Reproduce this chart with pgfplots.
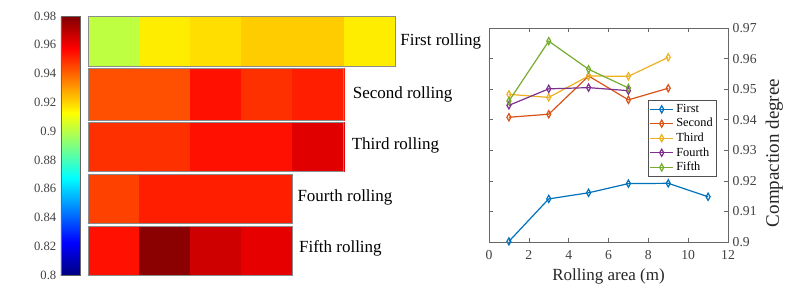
\documentclass[border=0pt]{standalone}
\usepackage{fontspec}
\setmainfont{Liberation Serif}
\usepackage{pgfplots}
\usepackage{pgfplotstable}
\pgfplotsset{compat=1.18}
\pgfplotsset{colorbar shift/.style={}}
\usepgfplotslibrary{patchplots}
\pgfkeys{/pgf/number format/assume math mode=true}
\definecolor{c1}{RGB}{0,114,189}
\definecolor{c2}{RGB}{217,83,25}
\definecolor{c3}{RGB}{237,177,32}
\definecolor{c4}{RGB}{126,47,142}
\definecolor{c5}{RGB}{119,172,48}
\definecolor{axgray}{RGB}{38,38,38}

\pgfplotstableread{
x y c
0 209 0.901
1 209 0.901
1 259 0.901
0 259 0.901
1 209 0.9157
2 209 0.9157
2 259 0.9157
1 259 0.9157
2 209 0.9184
3 209 0.9184
3 259 0.9184
2 259 0.9184
3 209 0.9215
4 209 0.9215
4 259 0.9215
3 259 0.9215
4 209 0.9215
5 209 0.9215
5 259 0.9215
4 259 0.9215
5 209 0.9157
6 209 0.9157
6 259 0.9157
5 259 0.9157
0 155 0.9435
1 155 0.9435
1 207 0.9435
0 207 0.9435
1 155 0.9435
2 155 0.9435
2 207 0.9435
1 207 0.9435
2 155 0.9547
3 155 0.9547
3 207 0.9547
2 207 0.9547
3 155 0.949
4 155 0.949
4 207 0.949
3 207 0.949
4 155 0.952
5 155 0.952
5 207 0.952
4 207 0.952
0 104 0.949
1 104 0.949
1 153 0.949
0 153 0.949
1 104 0.949
2 104 0.949
2 153 0.949
1 153 0.949
2 104 0.9547
3 104 0.9547
3 153 0.9547
2 153 0.9547
3 104 0.9547
4 104 0.9547
4 153 0.9547
3 153 0.9547
4 104 0.963
5 104 0.963
5 153 0.963
4 153 0.963
0 52 0.946
1 52 0.946
1 101 0.946
0 101 0.946
1 52 0.952
2 52 0.952
2 101 0.952
1 101 0.952
2 52 0.952
3 52 0.952
3 101 0.952
2 101 0.952
3 52 0.952
4 52 0.952
4 101 0.952
3 101 0.952
0 0 0.9547
1 0 0.9547
1 49 0.9547
0 49 0.9547
1 0 0.978
2 0 0.978
2 49 0.978
1 49 0.978
2 0 0.966
3 0 0.966
3 49 0.966
2 49 0.966
3 0 0.962
4 0 0.962
4 49 0.962
3 49 0.962
}\heatdata

\begin{document}
\begin{tikzpicture}[x=0.75pt,y=0.75pt]
\useasboundingbox (0,0) rectangle (810,301);
\coordinate (hm) at (88,26);
\coordinate (cb) at (80,26);
\coordinate (rp) at (489,59);

% ---------- heat map ----------
\begin{axis}[
  at={(hm)}, anchor=south west, scale only axis,
  width=230.25pt, height=194.25pt,
  xmin=0, xmax=6, ymin=0, ymax=259, enlargelimits=false,
  hide axis, clip=false,
  colormap/jet,
  point meta min=0.8, point meta max=0.98,
  colorbar shift/.style={},
  colorbar,
  colorbar style={
    at={(cb)}, anchor=south east,
    width=14.25pt, height=194.25pt, scale only axis,
    axis line style={gray!80!black, line width=0.5pt},
    yticklabel pos=left, ytick pos=left,
    ytick={0.8,0.82,0.84,0.86,0.88,0.9,0.92,0.94,0.96,0.98},
    yticklabel style={/pgf/number format/fixed,/pgf/number format/precision=2,
      font=\fontsize{9.5}{10}\selectfont, text=black!75},
    major tick length=0pt,
  },
]
\addplot[patch, patch type=rectangle, shader=flat, point meta=explicit]
  table[x=x, y=y, meta=c] {\heatdata};
\addplot[gray!90, line width=0.6pt, no marks] coordinates {(0,209) (6,209) (6,259) (0,259) (0,209)};
\addplot[gray!90, line width=0.6pt, no marks] coordinates {(0,155) (5,155) (5,207) (0,207) (0,155)};
\addplot[gray!90, line width=0.6pt, no marks] coordinates {(0,104) (5,104) (5,153) (0,153) (0,104)};
\addplot[gray!90, line width=0.6pt, no marks] coordinates {(0,52) (4,52) (4,101) (0,101) (0,52)};
\addplot[gray!90, line width=0.6pt, no marks] coordinates {(0,0) (4,0) (4,49) (0,49) (0,0)};
\node[anchor=west, font=\fontsize{12.75}{14}\selectfont, inner sep=0pt] at (axis cs:6.1,234) {First rolling};
\node[anchor=west, font=\fontsize{12.75}{14}\selectfont, inner sep=0pt] at (axis cs:5.17,181) {Second rolling};
\node[anchor=west, font=\fontsize{12.75}{14}\selectfont, inner sep=0pt] at (axis cs:5.15,130) {Third rolling};
\node[anchor=west, font=\fontsize{12.75}{14}\selectfont, inner sep=0pt] at (axis cs:4.09,78) {Fourth rolling};
\node[anchor=west, font=\fontsize{12.75}{14}\selectfont, inner sep=0pt] at (axis cs:4.12,27) {Fifth rolling};
\end{axis}

% ---------- line plot ----------
\begin{axis}[
  at={(rp)}, anchor=south west, scale only axis,
  width=179.25pt, height=160.5pt,
  xmin=0, xmax=12, ymin=0.9, ymax=0.97,
  xtick={0,2,4,6,8,10,12},
  ytick={0.9,0.91,0.92,0.93,0.94,0.95,0.96,0.97},
  yticklabel pos=right,
  tick align=inside, major tick length=3pt,
  axis line style={axgray!70, line width=0.5pt},
  tick style={axgray!70, line width=0.5pt},
  ticklabel style={font=\fontsize{10.25}{12}\selectfont, text=black!75},
  xticklabel style={yshift=-3pt},
  yticklabel style={/pgf/number format/fixed,/pgf/number format/precision=2},
  xlabel={Rolling area (m)},
  ylabel={Compaction degree},
  xlabel style={font=\fontsize{12.75}{14}\selectfont, text=black!85},
  ylabel style={font=\fontsize{14.25}{16}\selectfont, text=black!85, at={(ticklabel cs:0.416)}},
  legend style={at={(0.954,0.664)}, anchor=north east, draw=axgray!80,
    font=\fontsize{9.25}{10}\selectfont, inner sep=1pt, row sep=-1pt, line width=0.5pt},
  legend cell align=left,
  every axis plot/.append style={line width=0.9pt, mark=diamond,
    mark size=2.7pt, mark options={solid, fill=white, xscale=0.75}},
]
\addplot[c1] coordinates {(1,0.9002) (3,0.9141) (5,0.9161) (7,0.9191) (9,0.9192) (11,0.9148)};
\addlegendentry{First}
\addplot[c2] coordinates {(1,0.9408) (3,0.9418) (5,0.9543) (7,0.9465) (9,0.9503)};
\addlegendentry{Second}
\addplot[c3] coordinates {(1,0.9483) (3,0.9473) (5,0.9543) (7,0.9542) (9,0.9604)};
\addlegendentry{Third}
\addplot[c4] coordinates {(1,0.9447) (3,0.9501) (5,0.9505) (7,0.9495)};
\addlegendentry{Fourth}
\addplot[c5] coordinates {(1,0.9461) (3,0.9657) (5,0.9565) (7,0.9504)};
\addlegendentry{Fifth}
\end{axis}
\end{tikzpicture}
\end{document}
